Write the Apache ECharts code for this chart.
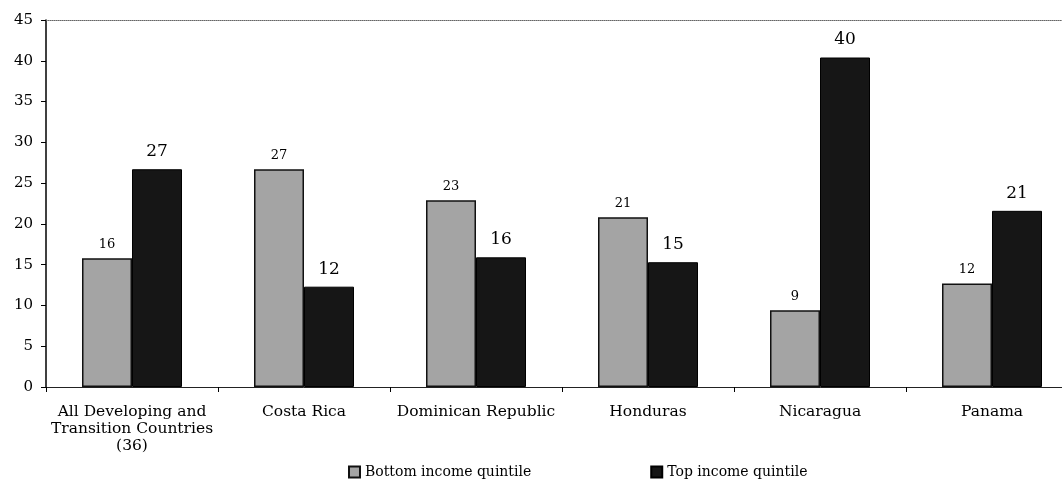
<!DOCTYPE html>
<html>
<head>
<meta charset="utf-8">
<script src="https://cdn.jsdelivr.net/npm/echarts@6/dist/echarts.min.js"></script>
<style>
html,body{margin:0;padding:0;background:#fff;overflow:hidden;width:1062px;height:488px;}
#c{width:1078px;height:488px;}
</style>
</head>
<body>
<div id="c"></div>
<script>
var categories = ['All Developing and\nTransition Countries\n(36)', 'Costa Rica', 'Dominican Republic', 'Honduras', 'Nicaragua', 'Panama'];
var bottomValues = [15.8, 26.7, 22.9, 20.8, 9.4, 12.7];
var topValues = [26.7, 12.3, 15.9, 15.3, 40.4, 21.6];
var bottomLabels = ['16', '27', '23', '21', '9', '12'];
var topLabels = ['27', '12', '16', '15', '40', '21'];
var yTicks = [0, 5, 10, 15, 20, 25, 30, 35, 40, 45];

var serif = '"DejaVu Serif", "Liberation Serif", serif';
var chart = echarts.init(document.getElementById('c'));
chart.setOption({
  animation: false,
  backgroundColor: '#fff',
  grid: { left: 46, right: 0, top: 20, bottom: 101 },
  legend: {
    bottom: 4, left: 343, itemGap: 119, itemWidth: 11, itemHeight: 11,
    icon: 'rect',
    textStyle: { fontFamily: serif, fontSize: 14, color: '#000' },
    data: ['Bottom income quintile', 'Top income quintile']
  },
  xAxis: [{
    type: 'category', data: categories,
    axisLine: { lineStyle: { color: '#222', width: 1 } },
    axisTick: { show: true, length: 5, lineStyle: { color: '#000' } },
    axisLabel: { interval: 0, fontFamily: serif, fontSize: 15.5, color: '#000', margin: 16, lineHeight: 17 }
  }, {
    type: 'category', data: categories, position: 'top',
    axisLine: { show: true, lineStyle: { color: '#666', type: 'dotted', width: 1 } },
    axisTick: { show: false }, axisLabel: { show: false }
  }],
  yAxis: {
    type: 'value', min: yTicks[0], max: yTicks[yTicks.length - 1], interval: 5,
    axisLine: { show: true, lineStyle: { color: '#000', width: 1.5 } },
    axisTick: { show: true, length: 5, lineStyle: { color: '#000' } },
    splitLine: { show: false },
    axisLabel: { fontFamily: serif, fontSize: 15, color: '#000', margin: 13 }
  },
  series: [{
    name: 'Bottom income quintile', type: 'bar', data: bottomValues,
    barWidth: 50, barGap: '0%',
    itemStyle: { color: '#a4a4a4', borderColor: '#111', borderWidth: 1.5 },
    label: { show: true, position: 'top', distance: 7, fontFamily: serif, fontSize: 13, color: '#000',
      formatter: function (p) { return bottomLabels[p.dataIndex]; } }
  }, {
    name: 'Top income quintile', type: 'bar', data: topValues,
    barWidth: 50,
    itemStyle: { color: '#161616', borderColor: '#000', borderWidth: 1 },
    label: { show: true, position: 'top', distance: 9, fontFamily: serif, fontSize: 17, color: '#000',
      formatter: function (p) { return topLabels[p.dataIndex]; } }
  }]
});
</script>
</body>
</html>
